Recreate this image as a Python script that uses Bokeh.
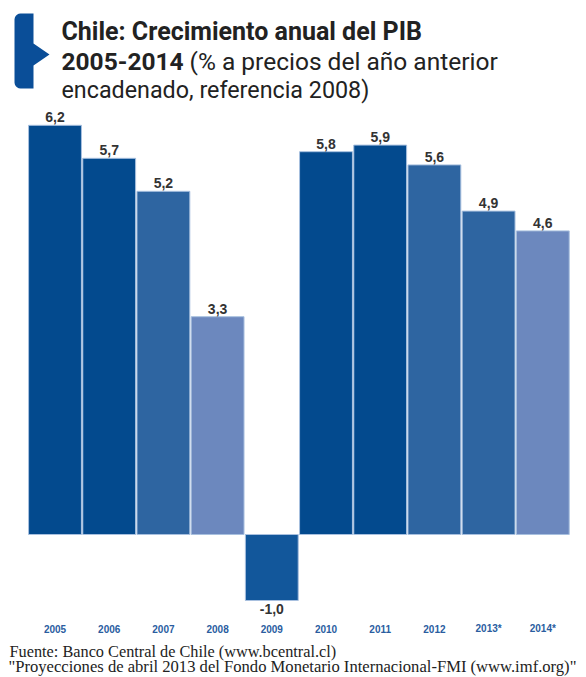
import numpy as np
from bokeh.plotting import figure
from bokeh.models import Range1d, Label, ColumnDataSource, PolyAnnotation
from bokeh.core.properties import value
from bokeh.embed import file_html
from bokeh.resources import INLINE

# ---- data ----
years = ["2005", "2006", "2007", "2008", "2009", "2010", "2011", "2012", "2013*", "2014*"]
growth = [6.2, 5.7, 5.2, 3.3, -1.0, 5.8, 5.9, 5.6, 4.9, 4.6]
value_labels = ["6,2", "5,7", "5,2", "3,3", "-1,0", "5,8", "5,9", "5,6", "4,9", "4,6"]

# ---- styles ----
bar_colors = ["#034a8e", "#034a8e", "#2e65a1", "#6c88be", "#12579b",
              "#034a8e", "#034a8e", "#2e65a1", "#2e65a1", "#6c88be"]

W, H = 586, 677
XPX0, XPX_STEP = 54.5, 54.2
YPX0, YPX_UNIT = 534.0, 66.0

def X(px):
    return (px - XPX0) / XPX_STEP

def Y(py):
    return (YPX0 - py) / YPX_UNIT

p = figure(width=W, height=H, output_backend="svg", toolbar_location=None,
           x_range=Range1d(X(0), X(W)), y_range=Range1d(Y(H), Y(0)),
           min_border=0, min_border_left=0, min_border_right=0,
           min_border_top=0, min_border_bottom=0)
p.axis.visible = False
p.grid.visible = False
p.outline_line_color = None
p.background_fill_color = "white"
p.border_fill_color = "white"

idx = list(range(len(years)))
src = ColumnDataSource(dict(x=idx, top=growth, color=bar_colors))
p.vbar(x="x", top="top", bottom=0, width=0.975, fill_color="color",
       line_color="#a8c0df", line_width=1, source=src)

pos_i = [i for i in idx if growth[i] >= 0]
neg_i = [i for i in idx if growth[i] < 0]
pos_src = ColumnDataSource(dict(x=pos_i, y=[growth[i] for i in pos_i],
                                t=[value_labels[i] for i in pos_i]))
neg_src = ColumnDataSource(dict(x=neg_i, y=[growth[i] for i in neg_i],
                                t=[value_labels[i] for i in neg_i]))
lab_font = value("Liberation Sans")
p.text(x="x", y="y", text="t", source=pos_src, text_align="center", text_baseline="bottom",
       y_offset=-3, text_font=lab_font, text_font_style="bold", text_font_size="14px",
       text_color="#333333")
p.text(x="x", y="y", text="t", source=neg_src, text_align="center", text_baseline="top",
       y_offset=3, text_font=lab_font, text_font_style="bold", text_font_size="14px",
       text_color="#333333")

# year labels
year_src = ColumnDataSource(dict(x=idx, y=[Y(628)] * len(idx), t=years))
p.text(x="x", y="y", text="t", source=year_src, text_align="center", text_baseline="middle",
       text_font=lab_font, text_font_style="bold", text_font_size="10px", text_color="#2a5d9f")

# bracket decoration
def arc(cx, cy, r, a0, a1, n=6):
    a = np.linspace(np.radians(a0), np.radians(a1), n)
    return list(cx + r * np.cos(a)), list(cy + r * np.sin(a))

xs, ys = [], []
xs += [33, 33, 49, 33, 33]; ys += [13, 43, 54, 65, 88]
ax, ay = arc(20, 82, 6, 90, 180); xs += ax; ys += ay
ax, ay = arc(20, 19, 6, 180, 270); xs += ax; ys += ay
p.add_layout(PolyAnnotation(xs=[X(v) for v in xs], ys=[Y(v) for v in ys],
                            fill_color="#0a4e98", fill_alpha=1, line_color=None))

# titles
tfont = "Roboto"
p.add_layout(Label(x=X(61), y=Y(31), text="Chile: Crecimiento anual del PIB", text_font=tfont,
                   text_font_style="bold", text_font_size="25px", text_color="#222222",
                   text_baseline="alphabetic"))
p.add_layout(Label(x=X(61), y=Y(61), text="2005-2014", text_font=tfont,
                   text_font_style="bold", text_font_size="24.5px", text_color="#222222",
                   text_baseline="alphabetic"))
p.add_layout(Label(x=X(189), y=Y(61), text="(% a precios del año anterior", text_font=tfont,
                   text_font_size="24.5px", text_color="#222222", text_baseline="alphabetic"))
p.add_layout(Label(x=X(61), y=Y(89), text="encadenado, referencia 2008)", text_font=tfont,
                   text_font_size="23.3px", text_color="#222222", text_baseline="alphabetic"))

# footer
ffont = "Liberation Serif"
p.add_layout(Label(x=X(9), y=Y(651), text="Fuente: Banco Central de Chile (www.bcentral.cl)",
                   text_font=ffont, text_font_size="16.3px", text_color="#222222",
                   text_baseline="alphabetic"))
p.add_layout(Label(x=X(8), y=Y(666),
                   text="\"Proyecciones de abril 2013 del Fondo Monetario Internacional-FMI (www.imf.org)\"",
                   text_font=ffont, text_font_size="16.6px", text_color="#222222",
                   text_baseline="alphabetic"))

open("out.html", "w").write(file_html(p, INLINE))
